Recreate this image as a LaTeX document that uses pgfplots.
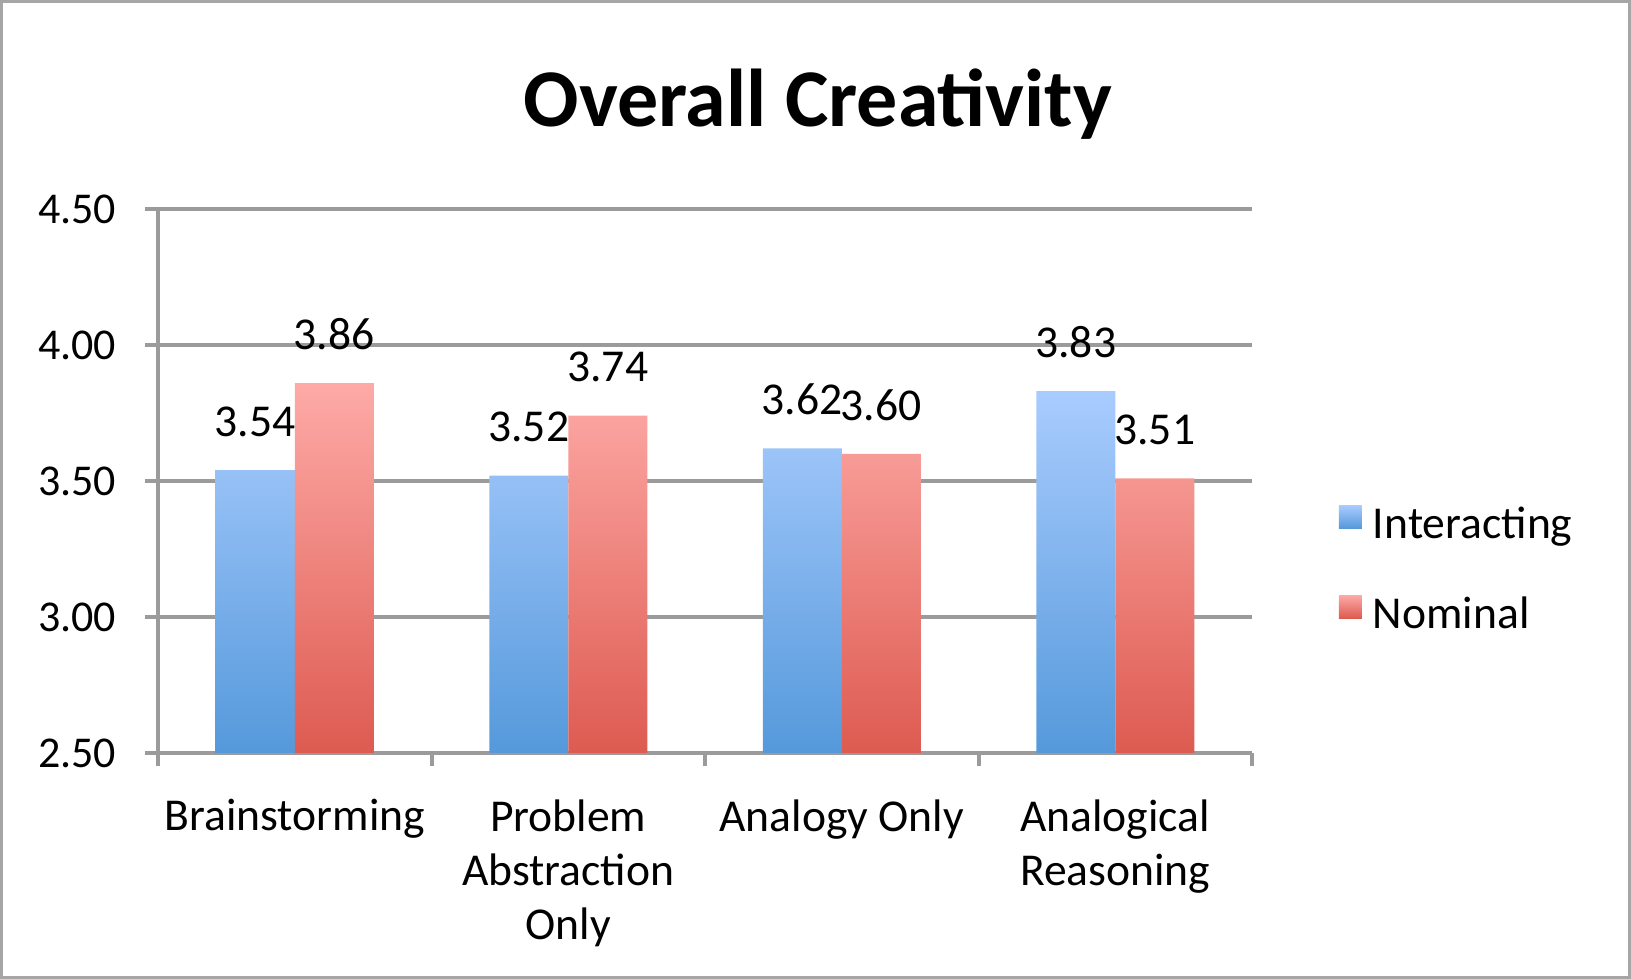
\documentclass[border=0pt]{standalone}
\usepackage{pgfplots}
\usepackage{pgfplotstable}
\pgfplotsset{compat=1.18}
\usepackage{fontspec}
\setmainfont{Carlito}

\definecolor{blueTop}{HTML}{A9CCFE}
\definecolor{blueBot}{HTML}{5599DB}
\definecolor{redTop}{HTML}{FEAAA7}
\definecolor{redBot}{HTML}{DD5B51}
\definecolor{gridGray}{HTML}{9B9B9B}
\definecolor{frameGray}{HTML}{A6A6A6}

% Mean scores per condition (axis starts at 2.50, so bars are drawn from that base)
\pgfplotstableread{
x v
0 3.54
1 3.52
2 3.62
3 3.83
}\interacting
\pgfplotstableread{
x v
0 3.86
1 3.74
2 3.60
3 3.51
}\nominal

\newcommand{\tickfont}{\fontsize{22bp}{27bp}\selectfont}
\newcommand{\lblfont}{\fontsize{22.8bp}{27bp}\selectfont}

\begin{document}
\begin{tikzpicture}
\useasboundingbox (0,0) rectangle (815.5bp,489.5bp);
\draw[line width=1.5bp, color=frameGray] (0.75bp,0.75bp) rectangle (814.75bp,488.75bp);
\node[anchor=base, font=\fontsize{41bp}{50bp}\selectfont\bfseries] at (409bp,426bp) {Overall Creativity};
\begin{axis}[
  at={(79bp,113bp)}, anchor=south west,
  scale only axis, width=547bp, height=272bp,
  ybar=0pt, bar width=39.5bp,
  xmin=-0.5, xmax=3.5, ymin=0, ymax=2,
  clip=false,
  axis x line*=bottom, axis y line*=left,
  axis line style={-, gridGray, line width=2bp},
  ymajorgrids, grid style={gridGray, line width=2bp},
  tick align=outside,
  major tick length=6.5bp, minor tick length=6.5bp,
  tick style={gridGray, line width=2bp},
  xtick={0,1,2,3},
  xticklabels={Brainstorming, {Problem\\Abstraction\\Only}, Analogy Only, {Analogical\\Reasoning}},
  major x tick style={draw=none},
  minor xtick={-0.5,0.5,1.5,2.5,3.5},
  ytick={0,0.5,1,1.5,2},
  yticklabels={2.50,3.00,3.50,4.00,4.50},
  xticklabel style={align=center, anchor=north, inner sep=0pt, font=\lblfont, yshift=-16.5bp},
  yticklabel style={anchor=east, inner sep=0pt, font=\tickfont, xshift=-14.2bp},
  /pgf/number format/assume math mode=true,
  nodes near coords={\pgfmathprintnumber[fixed,fixed zerofill,precision=2]{\pgfplotspointmeta}},
  every node near coord/.append style={anchor=south, inner sep=0pt, yshift=16.5bp, font=\lblfont, text=black},
  point meta=explicit,
  legend style={draw=none, fill=none, inner sep=0pt, outer sep=0pt,
    at={(1.0795,0.4555)}, anchor=north west,
    font=\lblfont, row sep=23.4bp,
    nodes={inner sep=0pt, text height=15bp, text depth=5bp},
    /tikz/every odd column/.append style={column sep=5.5bp}},
  legend cell align=left,
]
\addplot[draw=none, top color=blueTop, bottom color=blueBot,
  legend image code/.code={\shade[top color=blueTop, bottom color=blueBot] (0bp,0bp) rectangle (11.5bp,11.5bp);}]
  table[x=x, y expr=\thisrow{v}-2.5, meta=v] {\interacting};
\addlegendentry{Interacting}
\addplot[draw=none, top color=redTop, bottom color=redBot,
  legend image code/.code={\shade[top color=redTop, bottom color=redBot] (0bp,0bp) rectangle (11.5bp,11.5bp);}]
  table[x=x, y expr=\thisrow{v}-2.5, meta=v] {\nominal};
\addlegendentry{Nominal}
\end{axis}
\end{tikzpicture}
\end{document}
